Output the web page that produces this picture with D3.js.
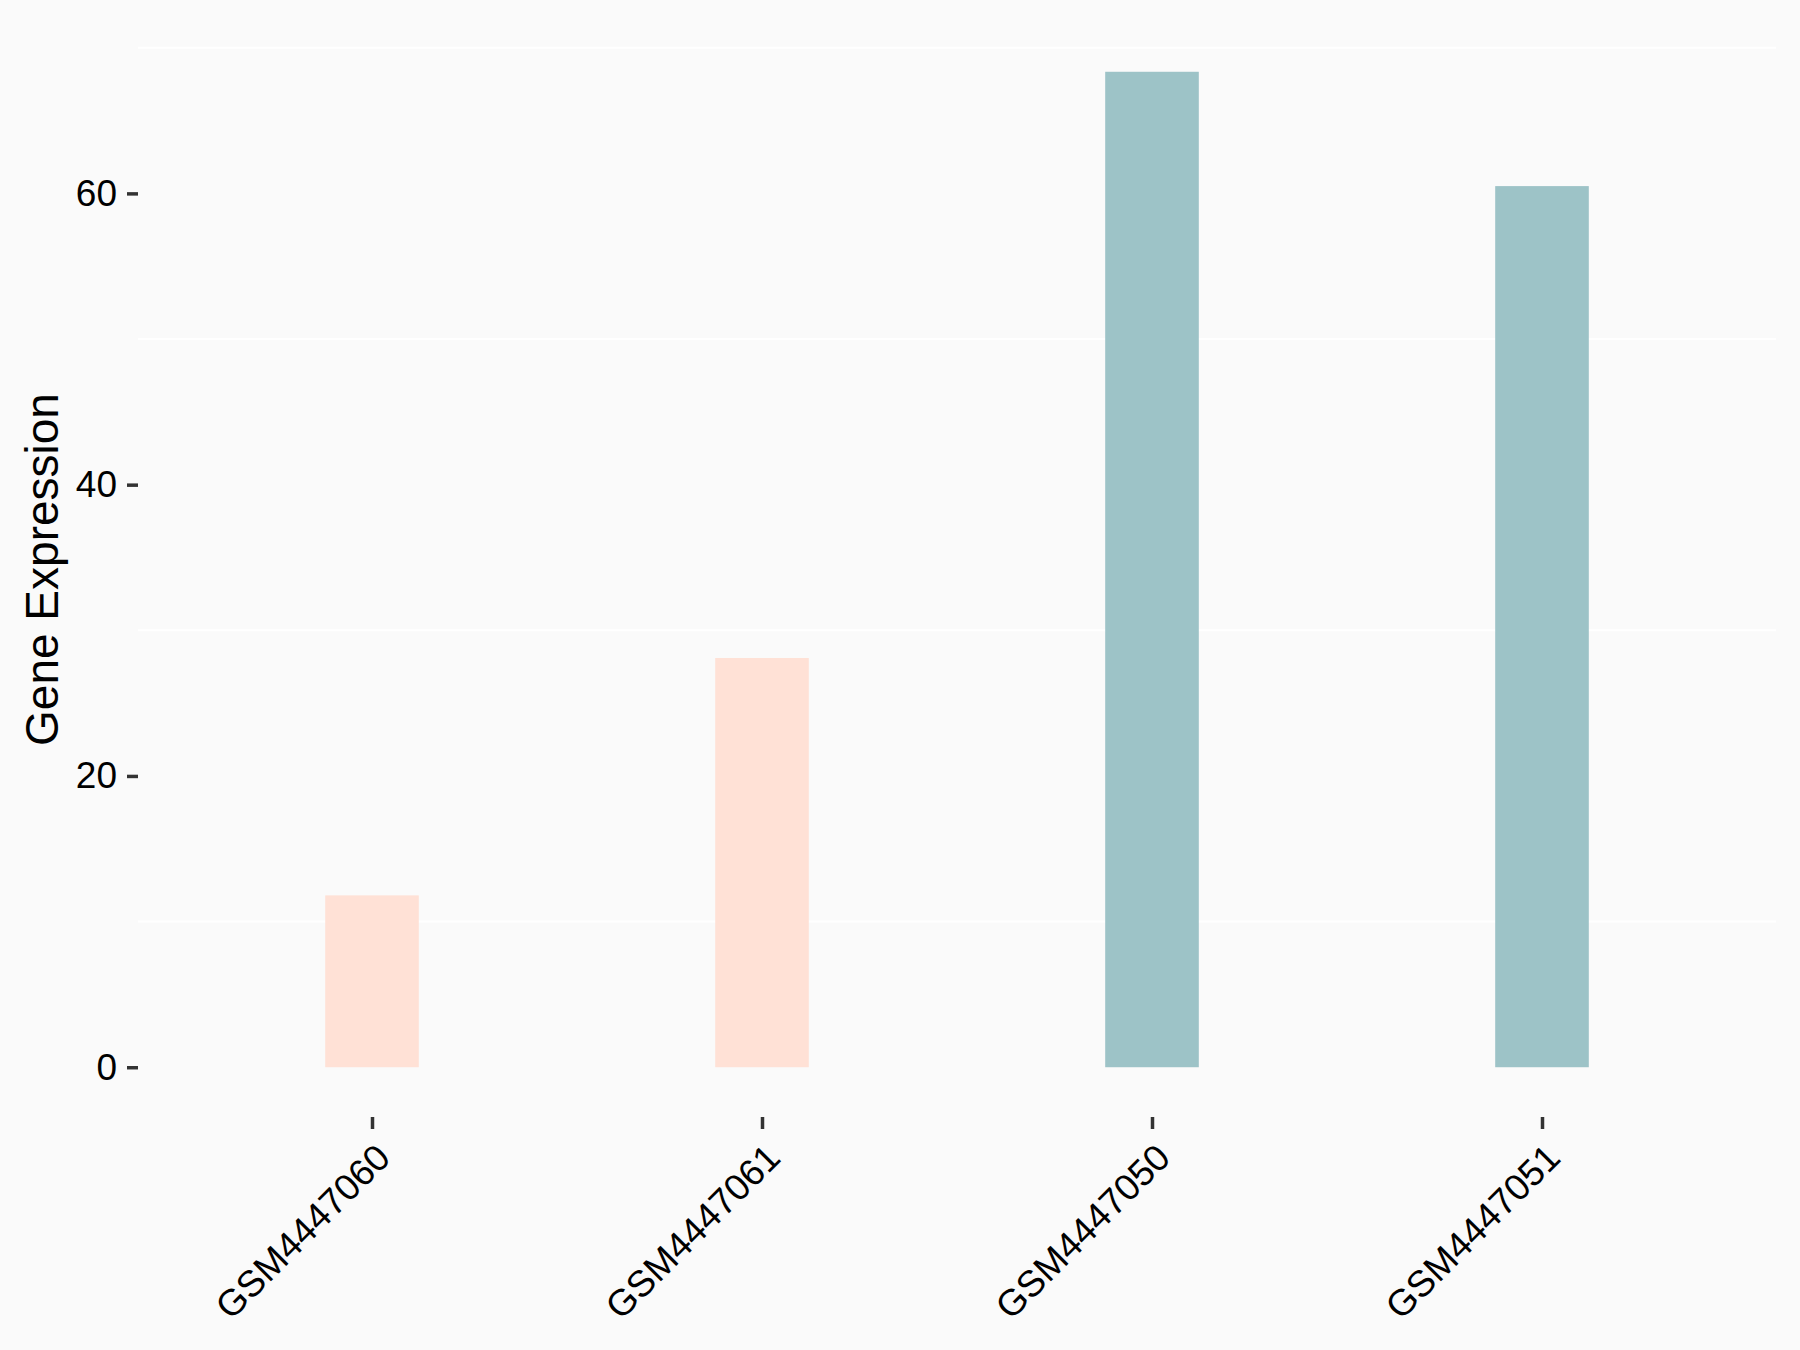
<!DOCTYPE html>
<html>
<head>
<meta charset="utf-8">
<script src="https://cdn.jsdelivr.net/npm/d3@7"></script>
<style>
    html, body { margin: 0; padding: 0; background: #fafafa; }
    svg { display: block; }
</style>
</head>
<body>
<svg id="svg"></svg>
<script>
// data
const samples = ['GSM4447060', 'GSM4447061', 'GSM4447050', 'GSM4447051']
const expression = [11.8, 28.1, 68.35, 60.5]
const groups = ['low', 'low', 'high', 'high']
const yTicks = [0, 20, 40, 60]
const yMinor = [10, 30, 50, 70]

const width = 1800
const height = 1350
const panel = { left: 138, right: 1776, top: 22, bottom: 1117 }
const fontFamily = 'Liberation Sans, Arial, sans-serif'

const svg = d3.select('#svg')
    .attr('width', width)
    .attr('height', height)

svg.append('rect')
    .attr('width', width)
    .attr('height', height)
    .attr('fill', '#fafafa')

// ggplot style: 5% expansion on y, 0.6 units on the discrete x
const yMax = d3.max(expression)
const pad = yMax * 0.05
const y = d3.scaleLinear()
    .domain([-pad, yMax + pad])
    .range([panel.bottom, panel.top])

const x = d3.scalePoint()
    .domain(samples)
    .range([panel.left, panel.right])
    .padding(0.6)

const barWidth = x.step() * 0.24

const color = d3.scaleOrdinal()
    .domain(['low', 'high'])
    .range(['#ffe1d6', '#9dc3c7'])

// minor grid lines (white)
svg.append('g')
    .selectAll('line')
    .data(yMinor)
    .join('line')
    .attr('x1', panel.left)
    .attr('x2', panel.right)
    .attr('y1', d => y(d))
    .attr('y2', d => y(d))
    .attr('stroke', '#ffffff')
    .attr('stroke-width', 2)

// bars
svg.append('g')
    .selectAll('rect')
    .data(samples)
    .join('rect')
    .attr('x', d => x(d) - barWidth / 2)
    .attr('width', barWidth)
    .attr('y', (d, i) => y(expression[i]))
    .attr('height', (d, i) => y(0) - y(expression[i]))
    .attr('fill', (d, i) => color(groups[i]))

// y axis
const yAxis = svg.append('g')
    .attr('transform', `translate(${panel.left},0)`)
    .call(d3.axisLeft(y).tickValues(yTicks).tickSize(11).tickPadding(10))

yAxis.select('.domain').remove()
yAxis.selectAll('.tick line')
    .attr('stroke', '#333333')
    .attr('stroke-width', 3.5)
yAxis.selectAll('.tick text')
    .attr('font-family', fontFamily)
    .attr('font-size', 37)
    .attr('fill', '#000000')

// x axis
const xAxis = svg.append('g')
    .attr('transform', `translate(0,${panel.bottom})`)
    .call(d3.axisBottom(x).tickSize(12).tickPadding(0))

xAxis.select('.domain').remove()
xAxis.selectAll('.tick line')
    .attr('stroke', '#333333')
    .attr('stroke-width', 3.5)
xAxis.selectAll('.tick text')
    .attr('font-family', fontFamily)
    .attr('font-size', 37)
    .attr('fill', '#000000')
    .attr('text-anchor', 'end')
    .attr('y', 0)
    .attr('dy', '0.72em')
    .attr('transform', 'translate(1,24) rotate(-45)')

// axis title
svg.append('text')
    .text('Gene Expression')
    .attr('font-family', fontFamily)
    .attr('font-size', 46)
    .attr('fill', '#000000')
    .attr('text-anchor', 'middle')
    .attr('transform', `translate(58,${(panel.top + panel.bottom) / 2}) rotate(-90)`)
</script>
</body>
</html>
